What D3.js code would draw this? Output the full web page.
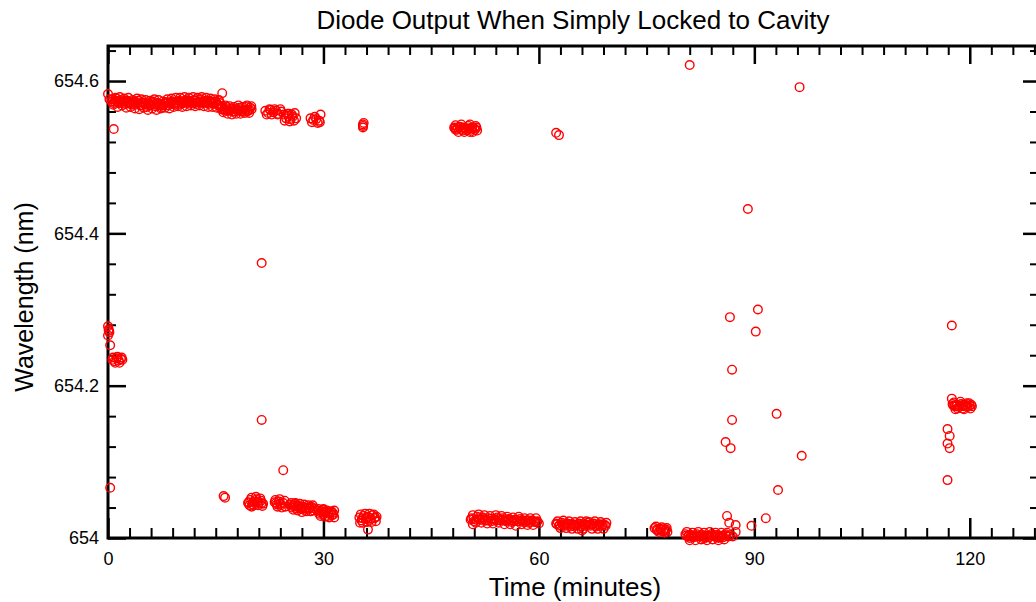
<!DOCTYPE html>
<html>
<head>
<meta charset="utf-8">
<script src="https://cdn.jsdelivr.net/npm/d3@7"></script>
<style>
  html, body { margin: 0; padding: 0; background: #fff; }
  svg { display: block; }
  text { font-family: "Liberation Sans", Arial, sans-serif; }
</style>
</head>
<body>
<script>
// ---- Data: [time (minutes), wavelength (nm)] ----
const upperBranch = [
  [0.0,654.583],[0.2,654.576],[0.8,654.537],
  [0.6,654.576],[0.9,654.573],[1.2,654.577],[1.5,654.571],[1.8,654.575],[2.1,654.573],[2.4,654.570],[2.7,654.574],
  [3.0,654.572],[3.3,654.569],[3.6,654.573],[3.9,654.571],[4.2,654.574],[4.5,654.568],[4.8,654.572],[5.1,654.570],
  [5.4,654.566],[5.7,654.571],[6.0,654.569],[6.3,654.573],[6.6,654.567],[6.9,654.571],[7.2,654.569],[7.5,654.565],
  [7.8,654.570],[8.1,654.572],[8.4,654.568],[8.7,654.571],[9.0,654.573],[9.3,654.569],[9.6,654.572],[9.9,654.574],
  [10.2,654.570],[10.5,654.573],[10.8,654.575],[11.1,654.571],[11.4,654.574],[11.7,654.572],[12.0,654.575],[12.3,654.570],
  [12.6,654.573],[12.9,654.576],[13.2,654.572],[13.5,654.574],[13.8,654.571],[14.1,654.574],[14.4,654.572],[14.7,654.570],
  [15.0,654.573],[15.3,654.569],[15.6,654.571],[15.9,654.584],[15.9,654.567],[16.2,654.563],[16.5,654.566],[16.8,654.561],
  [17.1,654.564],[17.4,654.560],[17.7,654.563],[18.0,654.561],[18.3,654.565],[18.6,654.560],[18.9,654.563],[19.2,654.566],
  [19.5,654.562],[19.8,654.565],[20.0,654.563],
  [0.75,654.569],[1.05,654.578],[1.35,654.566],[1.65,654.579],[1.95,654.568],[2.25,654.577],[2.55,654.565],[2.85,654.578],
  [3.15,654.566],[3.45,654.575],[3.75,654.564],[4.05,654.577],[4.35,654.563],[4.65,654.576],[4.95,654.565],[5.25,654.575],
  [5.55,654.562],[5.85,654.574],[6.15,654.564],[6.45,654.576],[6.75,654.562],[7.05,654.575],[7.35,654.564],[7.65,654.573],
  [7.95,654.565],[8.25,654.576],[8.55,654.564],[8.85,654.577],[9.15,654.566],[9.45,654.578],[9.75,654.567],[10.05,654.578],
  [10.35,654.566],[10.65,654.579],[10.95,654.567],[11.25,654.578],[11.55,654.568],[11.85,654.579],[12.15,654.567],[12.45,654.578],
  [12.75,654.568],[13.05,654.579],[13.35,654.567],[13.65,654.578],[13.95,654.566],[14.25,654.577],[14.55,654.566],[14.85,654.576],
  [15.15,654.565],[15.45,654.575],[15.75,654.563],[16.05,654.559],[16.35,654.568],[16.65,654.557],[16.95,654.567],[17.25,654.556],
  [17.55,654.566],[17.85,654.557],[18.15,654.568],[18.45,654.557],[18.75,654.566],[19.05,654.558],[19.35,654.568],[19.65,654.558],
  [19.95,654.567],
  [21.9,654.561],[22.3,654.558],[22.6,654.562],[23.0,654.559],[23.4,654.561],[23.7,654.557],[24.1,654.560],
  [22.1,654.556],[22.5,654.563],[22.8,654.556],[23.2,654.563],[23.6,654.556],[24.0,654.563],
  [24.5,654.556],[24.8,654.551],[25.1,654.554],[25.4,654.550],[25.7,654.553],[26.0,654.558],[26.2,654.551],[25.2,654.557],
  [24.6,654.548],[25.0,654.557],[25.3,654.547],[25.6,654.556],[25.9,654.548],
  [28.2,654.551],[28.6,654.549],[29.0,654.550],[29.4,654.548],[29.6,654.556],[29.5,654.546],
  [28.4,654.546],[28.8,654.553],[29.2,654.545],
  [35.5,654.543],[35.5,654.541],[35.5,654.539],[35.6,654.545],
  [48.2,654.539],[48.6,654.536],[49.0,654.540],[49.4,654.535],[49.8,654.538],[50.2,654.541],[50.6,654.536],[51.0,654.538],
  [51.4,654.535],[49.6,654.533],[50.4,654.533],
  [48.4,654.542],[48.8,654.533],[49.2,654.543],[49.6,654.538],[50.0,654.535],[50.4,654.543],[50.8,654.533],[51.2,654.541],
  [48.4,654.536],[51.3,654.539],
  [62.4,654.532],[62.8,654.529]
];
const middleBranch = [
  [0.0,654.278],[0.1,654.274],[0.2,654.270],[0.0,654.266],[0.1,654.272],[0.3,654.253],
  [0.6,654.234],[0.9,654.232],[1.2,654.236],[1.5,654.233],[1.8,654.235],[2.0,654.234],
  [0.7,654.237],[1.0,654.230],[1.3,654.238],[1.6,654.230],[1.9,654.237],
  [116.9,654.143],[117.2,654.134],[116.9,654.124],[117.2,654.118],[117.5,654.183],
  [117.6,654.176],[117.9,654.173],[118.2,654.175],[118.5,654.172],[118.8,654.176],[119.1,654.173],[119.4,654.175],
  [119.7,654.172],[120.0,654.174],[120.3,654.173],[118.0,654.169],[119.0,654.170],
  [117.8,654.178],[118.3,654.170],[118.7,654.179],[119.2,654.169],[119.6,654.177],[120.1,654.170],[119.9,654.177]
];
const lowerBranch = [
  [16.1,654.055],[16.3,654.053],
  [19.5,654.046],[19.8,654.050],[20.1,654.044],[20.4,654.048],[20.7,654.051],[21.0,654.046],[21.3,654.049],[21.6,654.045],[20.0,654.041],
  [19.7,654.043],[20.0,654.053],[20.3,654.043],[20.6,654.054],[20.9,654.043],[21.2,654.052],[21.5,654.042],
  [23.2,654.047],[23.5,654.044],[23.8,654.048],[24.1,654.043],[24.4,654.046],[24.7,654.041],
  [23.3,654.050],[23.6,654.041],[23.9,654.051],[24.2,654.040],[24.6,654.049],
  [25.3,654.044],[25.6,654.040],[25.9,654.043],[26.2,654.039],[26.5,654.042],[26.8,654.038],[27.1,654.041],[27.4,654.037],
  [27.7,654.040],[28.0,654.038],[28.3,654.041],[28.6,654.036],[26.0,654.045],[27.0,654.034],
  [25.5,654.046],[25.8,654.037],[26.1,654.046],[26.4,654.036],[26.7,654.045],[27.0,654.038],[27.3,654.044],[27.6,654.035],
  [27.9,654.043],[28.2,654.035],[28.5,654.043],
  [29.1,654.036],[29.4,654.032],[29.7,654.035],[30.0,654.031],[30.3,654.034],[30.6,654.029],[30.9,654.033],[31.2,654.030],
  [31.5,654.036],[31.5,654.027],[30.0,654.038],
  [29.3,654.038],[29.6,654.029],[29.9,654.037],[30.2,654.028],[30.5,654.036],[30.8,654.027],[31.1,654.035],[31.4,654.031],
  [35.0,654.027],[35.3,654.023],[35.6,654.029],[35.9,654.025],[36.2,654.028],[36.5,654.024],[36.8,654.030],[37.1,654.026],
  [37.4,654.028],[36.2,654.011],
  [35.2,654.031],[35.5,654.020],[35.8,654.032],[36.1,654.021],[36.4,654.032],[36.7,654.021],[37.0,654.031],[37.3,654.022],[35.1,654.020],
  [50.6,654.026],[51.0,654.022],[51.4,654.028],[51.8,654.024],[52.2,654.027],[52.6,654.023],[53.0,654.026],[53.4,654.022],
  [53.8,654.025],[54.2,654.027],[54.6,654.023],[55.0,654.026],[55.4,654.022],[55.8,654.025],[56.2,654.021],[56.6,654.024],
  [57.0,654.022],[57.4,654.025],[57.8,654.021],[58.2,654.023],[58.6,654.020],[59.0,654.023],[59.4,654.021],[59.8,654.022],
  [50.8,654.018],[56.8,654.016],
  [50.8,654.030],[51.2,654.020],[51.6,654.031],[52.0,654.020],[52.4,654.030],[52.8,654.019],[53.2,654.029],[53.6,654.019],
  [54.0,654.030],[54.4,654.020],[54.8,654.029],[55.2,654.018],[55.6,654.028],[56.0,654.018],[56.4,654.027],[57.2,654.028],
  [57.6,654.018],[58.0,654.026],[58.4,654.017],[58.8,654.026],[59.2,654.017],[59.6,654.026],[60.0,654.019],
  [62.4,654.019],[62.8,654.016],[63.2,654.020],[63.6,654.017],[64.0,654.019],[64.4,654.015],[64.8,654.018],[65.2,654.016],
  [65.6,654.019],[66.0,654.015],[66.4,654.018],[66.8,654.020],[67.2,654.016],[67.6,654.019],[68.0,654.015],[68.4,654.018],
  [68.8,654.016],[69.2,654.017],[66.0,654.010],[67.0,654.021],
  [62.6,654.022],[63.0,654.013],[63.4,654.023],[63.8,654.013],[64.2,654.022],[64.6,654.012],[65.0,654.021],[65.4,654.012],
  [65.8,654.022],[66.2,654.012],[66.6,654.022],[67.4,654.012],[67.8,654.022],[68.2,654.012],[68.6,654.021],[69.0,654.012],[69.4,654.020],
  [76.1,654.013],[76.5,654.010],[76.9,654.012],[77.3,654.009],[77.7,654.011],[77.9,654.008],
  [76.3,654.015],[76.7,654.008],[77.1,654.014],[77.5,654.007],[77.8,654.013],
  [80.4,654.005],[80.8,654.002],[81.2,654.004],[81.6,654.001],[82.0,654.005],[82.4,654.002],[82.8,654.004],[83.2,654.001],
  [83.6,654.003],[84.0,654.005],[84.4,654.002],[84.8,654.004],[85.2,654.001],[85.6,654.003],[86.0,654.005],[86.4,654.002],
  [81.0,654.000],[83.0,653.999],[85.0,654.000],
  [80.6,654.008],[81.0,653.997],[81.4,654.007],[81.8,653.997],[82.2,654.008],[82.6,653.998],[83.0,654.007],[83.4,653.997],
  [83.8,654.008],[84.2,653.998],[84.6,654.007],[85.0,653.997],[85.4,654.007],[85.8,653.998],[86.2,654.007]
];
// Extra readings packed in the cores of the dense clusters
const clusterCores = [
  [0.5,654.573],[0.8,654.571],[1.1,654.574],[1.4,654.572],[1.7,654.573],[2.0,654.571],[2.3,654.574],[2.6,654.572],[2.9,654.571],
  [3.2,654.570],[3.5,654.572],[3.8,654.569],[4.1,654.571],[4.4,654.570],[4.7,654.568],[5.0,654.571],[5.3,654.569],[5.6,654.570],
  [5.9,654.568],[6.2,654.571],[6.5,654.569],[6.8,654.570],[7.1,654.568],[7.4,654.570],[7.7,654.568],[8.0,654.571],[8.3,654.572],
  [8.6,654.570],[8.9,654.573],[9.2,654.571],[9.5,654.572],[9.8,654.570],[10.1,654.573],[10.4,654.571],[10.7,654.572],[11.0,654.574],
  [11.3,654.572],[11.6,654.573],[11.9,654.571],[12.2,654.574],[12.5,654.572],[12.8,654.573],[13.1,654.571],[13.4,654.573],[13.7,654.572],
  [14.0,654.570],[14.3,654.573],[14.6,654.571],[14.9,654.572],[15.2,654.570],[15.5,654.568],[15.8,654.565],[16.1,654.562],[16.4,654.561],
  [16.7,654.563],[17.0,654.561],[17.3,654.563],[17.6,654.560],[17.9,654.563],[18.2,654.561],[18.5,654.563],[18.8,654.561],[19.1,654.562],
  [19.4,654.560],[19.7,654.562],
  [48.3,654.538],[48.7,654.539],[49.1,654.537],[49.5,654.539],[49.9,654.537],[50.3,654.538],[50.7,654.539],[51.1,654.536],
  [117.7,654.174],[118.1,654.173],[118.6,654.174],[119.1,654.175],[119.5,654.173],[120.2,654.175],
  [19.6,654.047],[20.2,654.047],[20.8,654.048],[21.4,654.046],[23.4,654.046],[24.0,654.045],[25.7,654.042],[26.3,654.041],
  [26.9,654.040],[27.5,654.039],[28.1,654.040],[28.7,654.039],[29.5,654.034],[30.1,654.033],[30.7,654.032],[31.3,654.033],
  [35.4,654.026],[36.0,654.027],[36.6,654.026],[37.2,654.027],
  [50.5,654.024],[50.9,654.025],[51.3,654.024],[51.7,654.026],[52.1,654.024],[52.5,654.025],[52.9,654.023],[53.3,654.025],
  [53.7,654.024],[54.1,654.023],[54.5,654.025],[54.9,654.024],[55.3,654.023],[55.7,654.024],[56.1,654.023],[56.5,654.022],
  [56.9,654.024],[57.3,654.022],[57.7,654.023],[58.1,654.021],[58.5,654.023],[58.9,654.021],[59.3,654.022],[59.7,654.021],
  [62.5,654.018],[62.9,654.017],[63.3,654.018],[63.7,654.016],[64.1,654.017],[64.5,654.018],[64.9,654.016],[65.3,654.017],
  [65.7,654.016],[66.1,654.018],[66.5,654.016],[66.9,654.017],[67.3,654.018],[67.7,654.016],[68.1,654.017],[68.5,654.016],
  [68.9,654.018],[69.3,654.016],
  [76.4,654.011],[77.0,654.011],[77.6,654.010],
  [80.5,654.003],[80.9,654.004],[81.3,654.002],[81.7,654.003],[82.1,654.002],[82.5,654.004],[82.9,654.002],[83.3,654.003],
  [83.7,654.001],[84.1,654.003],[84.5,654.004],[84.9,654.002],[85.3,654.003],[85.7,654.001],[86.1,654.003],[86.7,654.004],[87.0,654.002]
];
const outliers = [
  [0.3,654.066],[21.4,654.361],[21.4,654.155],[24.4,654.089],
  [86.2,654.029],[86.5,654.020],[87.4,654.017],[87.4,654.008],[89.6,654.016],[91.6,654.026],[93.3,654.063],[96.6,654.108],
  [86.6,654.290],[90.2,654.271],[90.5,654.300],[86.9,654.221],[93.1,654.163],[86.9,654.155],[86.0,654.126],[86.7,654.118],
  [81.0,654.621],[96.3,654.592],[89.1,654.432],
  [117.5,654.279],[116.9,654.076]
];
const xMajorTicks = [0, 30, 60, 90, 120];
const yMajorTicks = [654, 654.2, 654.4, 654.6];
const yTickLabels = ["654", "654.2", "654.4", "654.6"];
const xDomain = [0, 129.5];
const yDomain = [654, 654.646];
const chartTitle = "Diode Output When Simply Locked to Cavity";
const xTitle = "Time (minutes)";
const yTitle = "Wavelength (nm)";

// ---- Layout ----
const W = 1036, H = 602;
const L = 108, R = 1038, T = 46, B = 538;

const svg = d3.select("body").append("svg").attr("width", W).attr("height", H);

const x = d3.scaleLinear().domain(xDomain).range([L, R]);
const y = d3.scaleLinear().domain(yDomain).range([B, T]);

const xMinor = d3.range(0, 130, 3).filter(v => !xMajorTicks.includes(v));
const yMinor = d3.range(0, 17).map(i => +(654 + i * 0.04).toFixed(2)).filter(v => !yMajorTicks.some(m => Math.abs(m - v) < 1e-6));

function styleAxis(g, width) {
  g.selectAll("path.domain").remove();
  g.selectAll("line").attr("stroke", "#000").attr("stroke-width", width);
  g.selectAll("text").attr("fill", "#000").style("font-size", "18px").style("font-family", "'Liberation Sans', Arial, sans-serif");
}

// Bottom
svg.append("g").attr("transform", `translate(0,${B})`)
  .call(d3.axisBottom(x).tickValues(xMinor).tickSize(-10).tickFormat(""))
  .call(g => styleAxis(g, 2));
svg.append("g").attr("transform", `translate(0,${B})`)
  .call(d3.axisBottom(x).tickValues(xMajorTicks).tickSize(-20).tickSizeOuter(0).tickPadding(14).tickFormat(d3.format("d")))
  .call(g => styleAxis(g, 2.5));
// Top
svg.append("g").attr("transform", `translate(0,${T})`)
  .call(d3.axisTop(x).tickValues(xMinor).tickSize(-9).tickFormat(""))
  .call(g => styleAxis(g, 2));
svg.append("g").attr("transform", `translate(0,${T})`)
  .call(d3.axisTop(x).tickValues(xMajorTicks).tickSize(-18).tickFormat(""))
  .call(g => styleAxis(g, 2.5));
// Left
svg.append("g").attr("transform", `translate(${L},0)`)
  .call(d3.axisLeft(y).tickValues(yMinor).tickSize(-8).tickFormat(""))
  .call(g => styleAxis(g, 2));
svg.append("g").attr("transform", `translate(${L},0)`)
  .call(d3.axisLeft(y).tickValues(yMajorTicks).tickSize(-18).tickPadding(9).tickFormat((d, i) => yTickLabels[i]))
  .call(g => styleAxis(g, 2.5));
// Right
svg.append("g").attr("transform", `translate(${R},0)`)
  .call(d3.axisRight(y).tickValues(yMinor).tickSize(-8).tickFormat(""))
  .call(g => styleAxis(g, 2));
svg.append("g").attr("transform", `translate(${R},0)`)
  .call(d3.axisRight(y).tickValues(yMajorTicks).tickSize(-15).tickFormat(""))
  .call(g => styleAxis(g, 2.5));

// Frame
svg.append("rect").attr("x", L).attr("y", T).attr("width", R - L).attr("height", B - T)
  .attr("fill", "none").attr("stroke", "#000").attr("stroke-width", 3);

// Points
const allPoints = [].concat(upperBranch, middleBranch, lowerBranch, clusterCores, outliers);
svg.append("g").selectAll("circle").data(allPoints).join("circle")
  .attr("cx", d => x(d[0])).attr("cy", d => y(d[1])).attr("r", 4.3)
  .attr("fill", "none").attr("stroke", "#ff0000").attr("stroke-width", 1.4);

// Titles
svg.append("text").attr("x", 573).attr("y", 29).attr("text-anchor", "middle")
  .style("font-size", "26px").attr("fill", "#000").text(chartTitle);
svg.append("text").attr("x", 575).attr("y", 596).attr("text-anchor", "middle")
  .style("font-size", "26px").attr("fill", "#000").text(xTitle);
svg.append("text").attr("transform", "translate(33,297) rotate(-90)").attr("text-anchor", "middle")
  .style("font-size", "25px").attr("fill", "#000").text(yTitle);
</script>
</body>
</html>
